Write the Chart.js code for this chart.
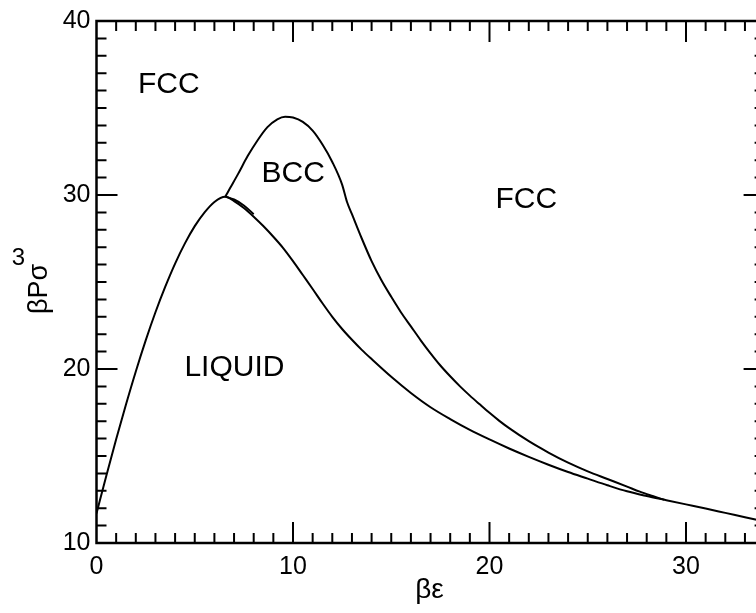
<!DOCTYPE html>
<html>
<head>
<meta charset="utf-8">
<script src="https://cdn.jsdelivr.net/npm/chart.js@4.4.1/dist/chart.umd.min.js"></script>
<style>
  html, body { margin: 0; padding: 0; background: #fff; overflow: hidden; }
  #wrap { width: 770px; height: 613px; position: relative; }
</style>
</head>
<body>
<div id="wrap"><canvas id="phase"></canvas></div>
<script>
// axis ranges
const xMin = 0, xMax = 34;
const yMin = 10, yMax = 40;

// liquid / solid coexistence line
const liquidX = [0, 0.5, 1.0, 1.5, 2.0, 2.5, 3.0, 3.5, 4.0, 4.5, 5.0, 5.5, 6.0, 6.55,
  7.0, 7.5, 8.0, 8.5, 9.0, 9.5, 10.0, 10.5, 11.0, 11.5, 12.0, 12.5, 13.0, 13.5, 14.0, 15.0, 16.0,
  17.0, 18.0, 19.0, 20.0, 21.0, 22.0, 23.0, 24.0, 25.0, 26.0, 27.0, 28.0, 29.0, 30.0,
  31.0, 32.0, 33.0, 34.0];
const liquidY = [11.7, 13.87, 15.96, 17.96, 19.86, 21.63, 23.26, 24.73, 26.06, 27.22, 28.21, 29.0, 29.6, 29.9,
  29.65, 29.25, 28.75, 28.2, 27.6, 26.95, 26.2, 25.4, 24.6, 23.78, 23.0, 22.3, 21.68, 21.1, 20.57, 19.55, 18.62,
  17.8, 17.12, 16.5, 15.95, 15.43, 14.95, 14.5, 14.08, 13.7, 13.32, 12.97, 12.7, 12.46, 12.22,
  11.98, 11.73, 11.48, 11.23];

// liquid / bcc branch close to the triple point
const liqBccX = [6.55, 7.0, 7.5, 8.0];
const liqBccY = [29.92, 29.74, 29.4, 28.9];

// bcc / fcc boundary
const bccX = [6.55, 6.8, 7.2, 7.7, 8.2, 8.7, 9.2, 9.6, 10.0, 10.5, 11.0, 11.5, 12.0, 12.5,
  12.75, 13.0, 13.5, 14.0, 14.5, 15.0, 15.5, 16.0, 16.5, 17.0, 17.5, 18.0, 18.5, 19.0, 19.5,
  20.0, 20.5, 21.0, 22.0, 23.0, 24.0, 25.0, 26.0, 27.0, 27.65, 28.3, 28.9];
const bccY = [29.9, 30.4, 31.2, 32.25, 33.15, 33.9, 34.35, 34.5, 34.45, 34.2, 33.7, 32.9, 31.9, 30.6,
  29.6, 28.9, 27.5, 26.2, 25.1, 24.15, 23.25, 22.45, 21.65, 20.9, 20.2, 19.58, 19.0, 18.47, 17.97,
  17.48, 17.02, 16.6, 15.85, 15.2, 14.62, 14.12, 13.68, 13.24, 12.95, 12.7, 12.48];

// phase labels
const regionNames = ['FCC', 'BCC', 'FCC', 'LIQUID'];
const regionX = [3.68, 10.01, 21.87, 7.02];
const regionY = [36.49, 31.34, 29.89, 20.23];

const FONT = "'Liberation Sans', Arial, Helvetica, sans-serif";

function pts(xs, ys) {
  return xs.map(function (v, i) { return { x: v, y: ys[i] }; });
}

function curve(xs, ys, w) {
  return {
    data: pts(xs, ys),
    borderColor: '#000',
    borderWidth: w,
    pointRadius: 0,
    fill: false,
    cubicInterpolationMode: 'monotone'
  };
}

const frame = {
  id: 'frame',
  afterDraw: function (chart) {
    const ctx = chart.ctx, a = chart.chartArea;
    const sx = chart.scales.x, sy = chart.scales.y;
    ctx.save();
    ctx.strokeStyle = '#000';
    ctx.lineWidth = 2;
    ctx.beginPath();
    // inward ticks on all four sides
    for (let v = xMin + 1; v < xMax; v++) {
      const p = sx.getPixelForValue(v);
      const len = v % 10 === 0 ? 21 : 10;
      ctx.moveTo(p, a.bottom); ctx.lineTo(p, a.bottom - len);
      ctx.moveTo(p, a.top); ctx.lineTo(p, a.top + len);
    }
    for (let v = yMin + 1; v < yMax; v++) {
      const p = sy.getPixelForValue(v);
      const len = v % 10 === 0 ? 21 : 10;
      ctx.moveTo(a.left, p); ctx.lineTo(a.left + len, p);
      ctx.moveTo(a.right, p); ctx.lineTo(a.right - len, p);
    }
    ctx.stroke();
    ctx.lineWidth = 2.5;
    ctx.strokeRect(a.left, a.top, a.right - a.left, a.bottom - a.top);

    // phase names
    ctx.fillStyle = '#000';
    ctx.textAlign = 'center';
    ctx.textBaseline = 'alphabetic';
    ctx.font = '30px ' + FONT;
    regionNames.forEach(function (name, i) {
      ctx.fillText(name, sx.getPixelForValue(regionX[i]), sy.getPixelForValue(regionY[i]) + 10.7);
    });

    // axis titles
    ctx.font = '28px ' + FONT;
    ctx.fillText('βε', (a.left + a.right) / 2 - 1, a.bottom + 55);

    ctx.save();
    ctx.translate(47, 289);
    ctx.rotate(-Math.PI / 2);
    ctx.font = '27px ' + FONT;
    ctx.fillText('βPσ', 0, 0);
    ctx.restore();
    ctx.font = '24px ' + FONT;
    ctx.fillText('3', 18.5, 265);
    ctx.restore();
  }
};

new Chart(document.getElementById('phase'), {
  type: 'line',
  data: {
    datasets: [
      curve(liquidX, liquidY, 2),
      curve(liqBccX, liqBccY, 2),
      curve(bccX, bccY, 2)
    ]
  },
  options: {
    responsive: true,
    maintainAspectRatio: false,
    animation: false,
    layout: { padding: { left: 0, right: 5.4, top: 18, bottom: 0 } },
    plugins: { legend: { display: false }, tooltip: { enabled: false } },
    scales: {
      x: {
        type: 'linear',
        min: xMin,
        max: xMax,
        grid: { display: false, drawTicks: false },
        border: { display: false },
        ticks: {
          stepSize: 10,
          includeBounds: false,
          padding: 9,
          color: '#000',
          font: { family: FONT, size: 25 }
        },
        afterFit: function (s) { s.height = 70; }
      },
      y: {
        type: 'linear',
        min: yMin,
        max: yMax,
        grid: { display: false, drawTicks: false },
        border: { display: false },
        ticks: {
          stepSize: 10,
          padding: 6,
          color: '#000',
          font: { family: FONT, size: 25 }
        },
        afterFit: function (s) { s.width = 96.5; }
      }
    }
  },
  plugins: [frame]
});
</script>
</body>
</html>
